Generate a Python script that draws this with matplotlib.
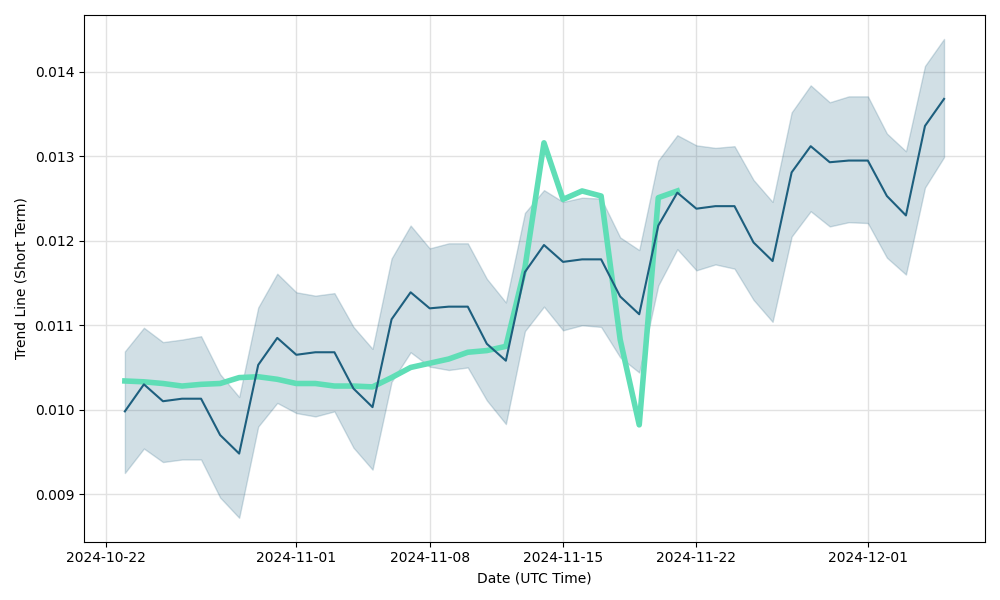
import numpy as np
import pandas as pd
from matplotlib import pyplot as plt

dates = pd.date_range("2024-10-23", "2024-12-05", freq="D")

trend = [0.00998, 0.01030, 0.01010, 0.01013, 0.01013, 0.00970, 0.00948, 0.01053, 0.01085, 0.01065,
         0.01068, 0.01068, 0.01025, 0.01003, 0.01107, 0.01139, 0.01120, 0.01122, 0.01122, 0.01078,
         0.01058, 0.01163, 0.01195, 0.01175, 0.01178, 0.01178, 0.01134, 0.01113, 0.01218, 0.01257,
         0.01238, 0.01241, 0.01241, 0.01198, 0.01176, 0.01281, 0.01312, 0.01293, 0.01295, 0.01295,
         0.01253, 0.01230, 0.01336, 0.01368]

upper = [0.01069, 0.01097, 0.01080, 0.01083, 0.01087, 0.01042, 0.01015, 0.01121, 0.01161, 0.01139,
         0.01135, 0.01138, 0.01098, 0.01072, 0.01179, 0.01218, 0.01191, 0.01197, 0.01197, 0.01155,
         0.01127, 0.01233, 0.01260, 0.01246, 0.01251, 0.01250, 0.01204, 0.01189, 0.01295, 0.01325,
         0.01313, 0.01310, 0.01312, 0.01272, 0.01246, 0.01352, 0.01384, 0.01364, 0.01371, 0.01371,
         0.01327, 0.01306, 0.01407, 0.01439]

lower = [0.00925, 0.00954, 0.00938, 0.00941, 0.00941, 0.00896, 0.00872, 0.00980, 0.01008, 0.00996,
         0.00992, 0.00998, 0.00955, 0.00929, 0.01033, 0.01068, 0.01051, 0.01047, 0.01050, 0.01011,
         0.00983, 0.01093, 0.01122, 0.01094, 0.01100, 0.01098, 0.01062, 0.01044, 0.01147, 0.01190,
         0.01165, 0.01172, 0.01167, 0.01130, 0.01104, 0.01205, 0.01235, 0.01217, 0.01222, 0.01221,
         0.01180, 0.01160, 0.01263, 0.01299]

# actual price, only up to 2024-11-21
price = [0.01034, 0.01033, 0.01031, 0.01028, 0.01030, 0.01031, 0.01038, 0.01039, 0.01036, 0.01031,
         0.01031, 0.01028, 0.01028, 0.01027, 0.01038, 0.01050, 0.01055, 0.01060, 0.01068, 0.01070,
         0.01075, 0.01168, 0.01316, 0.01249, 0.01259, 0.01253, 0.01083, 0.00982, 0.01251, 0.01259]

dark = '#1d5f7e'
green = '#5fdeb6'

fig, ax = plt.subplots(figsize=(10, 6), dpi=100)
ax.fill_between(dates, lower, upper, color=dark, alpha=0.2)
ax.plot(dates[:len(price)], price, color=green, linewidth=4)
ax.plot(dates, trend, color=dark, linewidth=1.5)

ax.grid(True, color='#e2e2e2', linewidth=1)
ax.set_axisbelow(True)
ax.set_xlabel('Date (UTC Time)')
ax.set_ylabel('Trend Line (Short Term)')

plt.tight_layout()
plt.savefig('out.png')
